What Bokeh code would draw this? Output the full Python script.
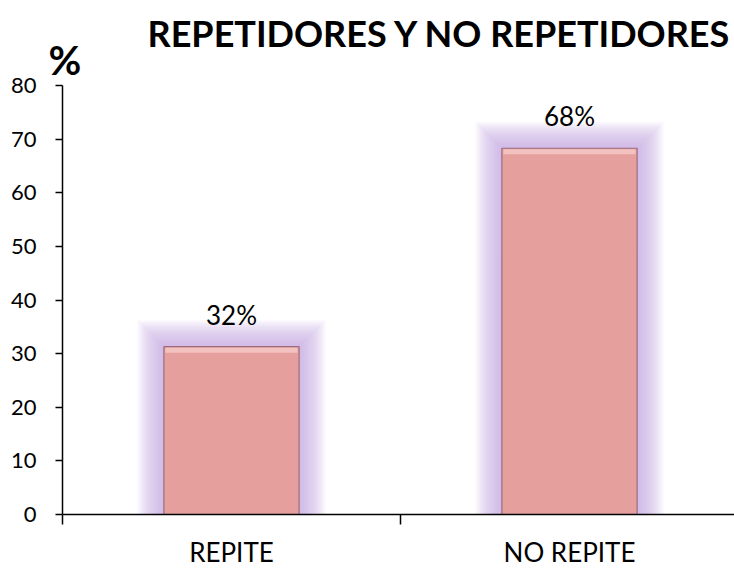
from bokeh.plotting import figure
from bokeh.models import Range1d, FixedTicker, Title, ColumnDataSource
from bokeh.embed import file_html
from bokeh.resources import INLINE
from bokeh.core.properties import value

categories = ["REPITE", "NO REPITE"]
values = [31.3, 68.3]
labels = ["32%", "68%"]
y_ticks = [0, 10, 20, 30, 40, 50, 60, 70, 80]

FONT = "Lato"
W, H = 734, 570
PXX = 338.0            # pixels per category
p = figure(width=W, height=H, output_backend="svg", toolbar_location=None,
           x_range=Range1d(0, (W - 62) / PXX), y_range=Range1d(0, 80),
           min_border_left=62, min_border_right=0, min_border_top=85, min_border_bottom=54)
p.outline_line_color = None
p.grid.grid_line_color = None

PXY = 431 / 80.0
xs = [i + 0.5 for i in range(len(categories))]
bw = 0.40
px_x = 1 / PXX
px_y = 1 / PXY

# glow layers
for k in range(12, 0, -1):
    pad = k * 2.2
    src = ColumnDataSource(dict(
        left=[x - bw / 2 - pad * px_x for x in xs],
        right=[x + bw / 2 + pad * px_x for x in xs],
        top=[v + pad * px_y for v in values],
        bottom=[0 for _ in values]))
    p.quad(left="left", right="right", top="top", bottom="bottom", source=src,
           fill_color="#C0A9E0", fill_alpha=0.10, line_color=None)

src = ColumnDataSource(dict(left=[x - bw / 2 for x in xs], right=[x + bw / 2 for x in xs],
                            top=values, bottom=[0 for _ in values]))
p.quad(left="left", right="right", top="top", bottom="bottom", source=src,
       fill_color="#E5A09D", line_color="#9C6C7E", line_width=1.2)
# bevel top strip
src2 = ColumnDataSource(dict(left=[x - bw / 2 + 1.5 * px_x for x in xs],
                             right=[x + bw / 2 - 1.5 * px_x for x in xs],
                             top=[v - 1 * px_y for v in values],
                             bottom=[v - 6 * px_y for v in values]))
p.quad(left="left", right="right", top="top", bottom="bottom", source=src2,
       fill_color="#F3C2C0", line_color=None)

# value labels
p.text(x=xs, y=[v + 32 * px_y for v in values], text=labels,
       text_font=value(FONT), text_font_size="26px", text_color="black",
       text_align="center", text_baseline="alphabetic")

# y axis
p.yaxis.ticker = FixedTicker(ticks=y_ticks)
p.yaxis.axis_line_color = "black"
p.yaxis.axis_line_width = 1.5
p.yaxis.major_tick_line_width = 1.5
p.yaxis.major_tick_in = 0
p.yaxis.major_tick_out = 7
p.yaxis.minor_tick_line_color = None
p.yaxis.major_label_text_font = FONT
p.yaxis.major_label_text_font_size = "22px"
p.yaxis.major_label_text_color = "black"
p.yaxis.major_label_standoff = 19

# x axis: category labels at centres, ticks at boundaries
p.xaxis.ticker = FixedTicker(ticks=xs, minor_ticks=[0, 1, 2])
p.xaxis.major_label_overrides = {x: c for x, c in zip(xs, categories)}
p.xaxis.axis_line_color = "black"
p.xaxis.axis_line_width = 1.5
p.xaxis.major_tick_line_color = None
p.xaxis.major_tick_in = 0
p.xaxis.major_tick_out = 10
p.xaxis.minor_tick_line_color = "black"
p.xaxis.minor_tick_line_width = 1.5
p.xaxis.minor_tick_in = 0
p.xaxis.minor_tick_out = 10
p.xaxis.major_label_text_font = FONT
p.xaxis.major_label_text_font_size = "26px"
p.xaxis.major_label_text_color = "black"
p.xaxis.major_label_standoff = 11

p.add_layout(Title(text="%", text_font=FONT, text_font_style="bold", text_font_size="40px",
                   align="left", offset=-14, standoff=0, vertical_align="top",
                   text_color="black"), "above")
p.add_layout(Title(text="REPETIDORES Y NO REPETIDORES", text_font=FONT, text_font_style="bold",
                   text_font_size="36px", align="left", offset=85, standoff=-39,
                   vertical_align="bottom", text_color="black"), "above")

open("out.html", "w").write(file_html(p, INLINE))
